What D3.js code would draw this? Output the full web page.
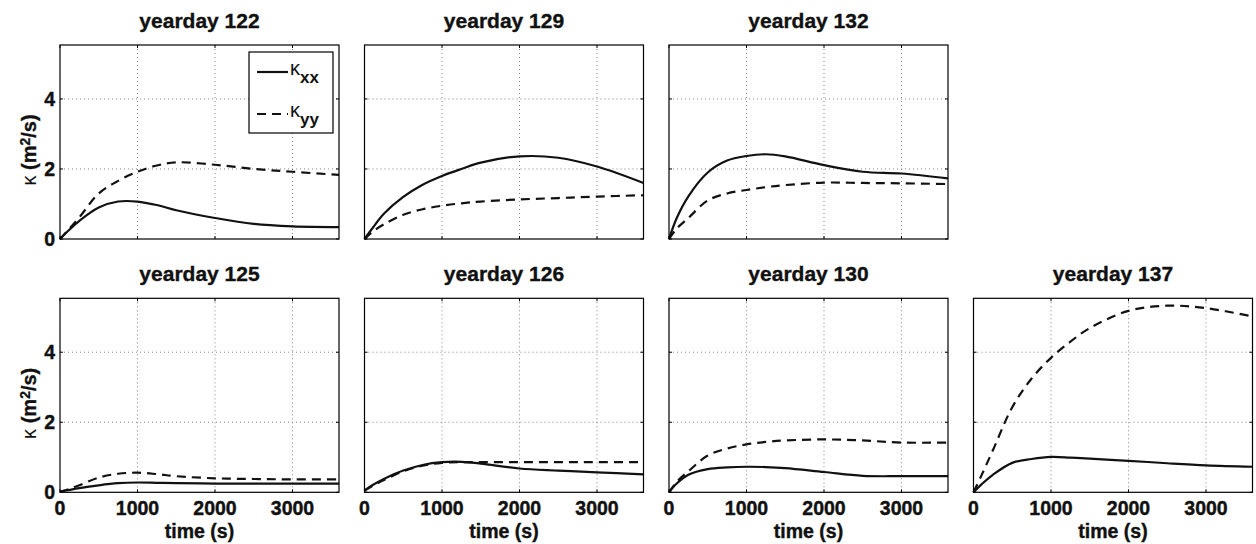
<!DOCTYPE html>
<html lang="en">
<head>
    <meta charset="UTF-8">
    <title>Diffusivity by yearday</title>
    <script src="https://d3js.org/d3.v7.min.js"></script>
    <style>
        body { margin: 0; background: #fff; }
        svg { display: block; font-family: "Liberation Sans", Arial, Helvetica, sans-serif; }
        .frame { fill: none; stroke: #000; stroke-width: 1.2; }
        .grid { stroke: #777; stroke-width: 0.9; stroke-dasharray: 1,3; }
        .tick { stroke: #000; stroke-width: 1; }
        .lbl { font-weight: bold; font-size: 19.5px; fill: #111; stroke: #111; stroke-width: 0.4; }
        .title { font-weight: bold; font-size: 21px; fill: #111; stroke: #111; stroke-width: 0.35; }
        .kxx { fill: none; stroke: #111; stroke-width: 2.2; }
        .kyy { fill: none; stroke: #111; stroke-width: 2.2; stroke-dasharray: 9,6; }
    </style>
</head>
<body>
<div id="chart"></div>
<script>
    // sample times (s) shared by all panels
    const times = [0, 100, 250, 500, 750, 1000, 1250, 1500, 2000, 2500, 3000, 3600];

    // kappa_xx / kappa_yy per yearday (m^2/s)
    const kxx122 = [0, 0.22, 0.52, 0.90, 1.07, 1.07, 0.97, 0.82, 0.60, 0.43, 0.36, 0.34];
    const kyy122 = [0, 0.24, 0.62, 1.30, 1.66, 1.92, 2.10, 2.19, 2.12, 2.00, 1.92, 1.83];
    const kxx129 = [0, 0.30, 0.72, 1.20, 1.55, 1.80, 2.00, 2.18, 2.36, 2.32, 2.07, 1.60];
    const kyy129 = [0, 0.20, 0.42, 0.69, 0.85, 0.95, 1.02, 1.07, 1.13, 1.17, 1.21, 1.25];
    const kxx132 = [0, 0.60, 1.22, 1.90, 2.24, 2.37, 2.42, 2.36, 2.11, 1.92, 1.87, 1.73];
    const kyy132 = [0, 0.30, 0.60, 1.10, 1.30, 1.40, 1.48, 1.54, 1.61, 1.60, 1.59, 1.57];
    const kxx125 = [0.02, 0.06, 0.12, 0.20, 0.26, 0.28, 0.27, 0.26, 0.25, 0.25, 0.25, 0.25];
    const kyy125 = [0.02, 0.08, 0.20, 0.42, 0.53, 0.56, 0.52, 0.46, 0.40, 0.38, 0.37, 0.37];
    const kxx126 = [0.05, 0.20, 0.38, 0.62, 0.78, 0.86, 0.87, 0.82, 0.68, 0.62, 0.57, 0.51];
    const kyy126 = [0.05, 0.18, 0.35, 0.60, 0.76, 0.84, 0.86, 0.86, 0.86, 0.86, 0.86, 0.86];
    const kxx130 = [0, 0.25, 0.50, 0.66, 0.71, 0.73, 0.72, 0.69, 0.58, 0.47, 0.46, 0.46];
    const kyy130 = [0, 0.30, 0.60, 1.05, 1.25, 1.37, 1.44, 1.48, 1.51, 1.48, 1.42, 1.42];
    const kxx137 = [0, 0.22, 0.50, 0.84, 0.95, 1.01, 0.99, 0.96, 0.90, 0.83, 0.77, 0.73];
    const kyy137 = [0, 0.47, 1.20, 2.43, 3.25, 3.84, 4.30, 4.69, 5.18, 5.33, 5.26, 5.02];

    const xTicks = [0, 1000, 2000, 3000];
    const yTicks = [0, 2, 4];

    // panel layout: [row, col, yearday, kxx, kyy]
    const panels = [
        [0, 0, 122, kxx122, kyy122],
        [0, 1, 129, kxx129, kyy129],
        [0, 2, 132, kxx132, kyy132],
        [1, 0, 125, kxx125, kyy125],
        [1, 1, 126, kxx126, kyy126],
        [1, 2, 130, kxx130, kyy130],
        [1, 3, 137, kxx137, kyy137]
    ];

    const colLeft = [60, 364.5, 669, 973.5];
    const rowTop = [45, 298.3];
    const pw = 279, ph = 194;

    const svg = d3.select('#chart').append('svg')
        .attr('width', 1256)
        .attr('height', 544);

    const x = d3.scaleLinear().domain([0, 3600]).range([0, pw]);
    const y = d3.scaleLinear().domain([0, 5.54]).range([ph, 0]);

    const line = d3.line()
        .x(d => x(d[0]))
        .y(d => y(d[1]))
        .curve(d3.curveCatmullRom.alpha(0.5));

    panels.forEach(([row, col, day, xx, yy]) => {
        const g = svg.append('g')
            .attr('transform', `translate(${colLeft[col]},${rowTop[row]})`);

        // grid
        g.selectAll('.gx').data(xTicks.slice(1)).enter().append('line')
            .attr('class', 'grid')
            .attr('x1', d => x(d)).attr('x2', d => x(d))
            .attr('y1', 0).attr('y2', ph);
        g.selectAll('.gy').data(yTicks.slice(1)).enter().append('line')
            .attr('class', 'grid')
            .attr('x1', 0).attr('x2', pw)
            .attr('y1', d => y(d)).attr('y2', d => y(d));

        // inward ticks on all sides
        xTicks.forEach(t => {
            g.append('line').attr('class', 'tick')
                .attr('x1', x(t)).attr('x2', x(t)).attr('y1', ph).attr('y2', ph - 3);
            g.append('line').attr('class', 'tick')
                .attr('x1', x(t)).attr('x2', x(t)).attr('y1', 0).attr('y2', 3);
        });
        yTicks.forEach(t => {
            g.append('line').attr('class', 'tick')
                .attr('x1', 0).attr('x2', 3).attr('y1', y(t)).attr('y2', y(t));
            g.append('line').attr('class', 'tick')
                .attr('x1', pw).attr('x2', pw - 3).attr('y1', y(t)).attr('y2', y(t));
        });

        g.append('path').attr('class', 'kyy')
            .attr('d', line(times.map((t, i) => [t, yy[i]])));
        g.append('path').attr('class', 'kxx')
            .attr('d', line(times.map((t, i) => [t, xx[i]])));

        g.append('rect').attr('class', 'frame')
            .attr('width', pw).attr('height', ph);

        g.append('text').attr('class', 'title')
            .attr('x', pw / 2).attr('y', -17)
            .attr('text-anchor', 'middle')
            .text('yearday ' + day);

        if (col === 0) {
            g.selectAll('.yl').data(yTicks).enter().append('text')
                .attr('class', 'lbl')
                .attr('x', -5).attr('y', d => y(d))
                .attr('dy', '0.36em')
                .attr('text-anchor', 'end')
                .text(d => d);

            const yl = g.append('text')
                .attr('transform', `translate(-24,${ph / 2 + 8}) rotate(-90)`)
                .attr('text-anchor', 'middle')
                .style('font-size', '20px')
                .style('fill', '#111');
            yl.append('tspan').text('κ ').style('font-weight', 'normal');
            yl.append('tspan').text('(m').style('font-weight', 'bold')
                .style('stroke', '#111').style('stroke-width', 0.35);
            yl.append('tspan').text('2').attr('dy', '-0.45em')
                .style('font-size', '14px').style('font-weight', 'bold')
                .style('stroke', '#111').style('stroke-width', 0.3);
            yl.append('tspan').text('/s)').attr('dy', '0.32em').style('font-weight', 'bold')
                .style('stroke', '#111').style('stroke-width', 0.35);
        }

        if (row === 1) {
            g.selectAll('.xl').data(xTicks).enter().append('text')
                .attr('class', 'lbl')
                .attr('x', d => x(d)).attr('y', ph + 23)
                .attr('text-anchor', 'middle')
                .text(d => d);
            g.append('text').attr('class', 'lbl')
                .attr('x', pw / 2).attr('y', ph + 45.5)
                .attr('text-anchor', 'middle')
                .text('time (s)');
        }

        // legend in the first panel
        if (day === 122) {
            const lg = g.append('g').attr('transform', `translate(${249 - 60},${52 - 45})`);
            lg.append('rect').attr('width', 84).attr('height', 81)
                .attr('fill', '#fff').attr('stroke', '#000').attr('stroke-width', 1.2);
            [['kxx', 'xx', 20], ['kyy', 'yy', 62]].forEach(([cls, sub, ly]) => {
                lg.append('line').attr('class', cls)
                    .attr('x1', 8).attr('x2', 39).attr('y1', ly).attr('y2', ly);
                const t = lg.append('text').attr('x', 41).attr('y', ly + 3).style('fill', '#111');
                t.append('tspan').text('κ').style('font-size', '20px');
                t.append('tspan').text(sub).attr('dy', 8)
                    .style('font-size', '17px').style('font-weight', 'bold');
            });
        }
    });
</script>
</body>
</html>
